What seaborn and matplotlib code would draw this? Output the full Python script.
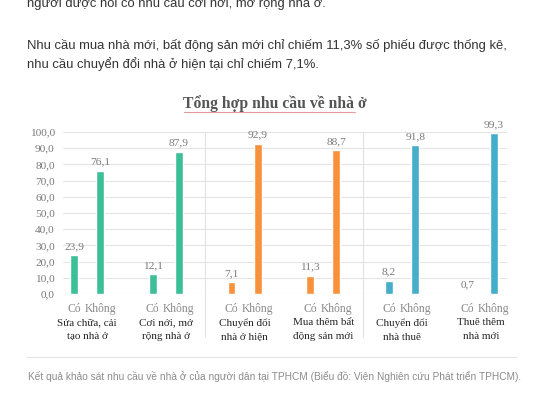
import numpy as np
import pandas as pd
import matplotlib
matplotlib.use("Agg")
import matplotlib.pyplot as plt
import matplotlib.transforms as mtransforms
import seaborn as sns

# %% — Data
categories = ["Sửa chữa, cải\ntạo nhà ở", "Cơi nới, mở\nrộng nhà ở",
              "Chuyển đổi\nnhà ở hiện", "Mua thêm bất\nđộng sản mới",
              "Chuyển đổi\nnhà thuê", "Thuê thêm\nnhà mới"]
themes = ["Cải tạo", "Cải tạo", "Chuyển đổi", "Chuyển đổi", "Thuê", "Thuê"]
answers = ["Có", "Không"]
yes_values = [23.9, 12.1, 7.1, 11.3, 8.2, 0.7]
no_values = [76.1, 87.9, 92.9, 88.7, 91.8, 99.3]
y_ticks = [0, 10, 20, 30, 40, 50, 60, 70, 80, 90, 100]

title = "Tổng hợp nhu cầu về nhà ở"
para_top = "người được hỏi có nhu cầu cơi nới, mở rộng nhà ở."
para_1 = "Nhu cầu mua nhà mới, bất động sản mới chỉ chiếm 11,3% số phiếu được thống kê,"
para_2 = "nhu cầu chuyển đổi nhà ở hiện tại chỉ chiếm 7,1%."
caption = ("Kết quả khảo sát nhu cầu về nhà ở của người dân tại TPHCM "
           "(Biểu đồ: Viện Nghiên cứu Phát triển TPHCM).")

palette = {"Cải tạo": "#3DBF99", "Chuyển đổi": "#F7913B", "Thuê": "#46AECA"}

# long table: each group gets a slot of 3 (Có, Không, gap)
rows = []
for g, (cat, th) in enumerate(zip(categories, themes)):
    for r, (ans, val) in enumerate(zip(answers, [yes_values[g], no_values[g]])):
        rows.append({"pos": 3 * g + r, "group": cat, "theme": th,
                     "answer": ans, "value": val})
df = pd.DataFrame(rows)

# %% — Figure
sns.set_theme(style="white")
plt.rcParams["font.family"] = ["Liberation Serif", "DejaVu Serif"]

W, H = 545, 400
fig = plt.figure(figsize=(W / 100, H / 100), dpi=100)
fig.patch.set_facecolor("white")

ax = fig.add_axes([63 / W, (H - 294) / H, 444 / W, 162 / H])
ax.set_facecolor("none")

sns.barplot(data=df, x="pos", y="value", hue="theme", palette=palette,
            native_scale=True, width=0.3, dodge=False, legend=False,
            saturation=1, ax=ax)

ax.set_ylim(0, 100)
ax.set_xlim(-0.42, df["pos"].max() + 0.5)
ax.set_yticks(y_ticks)
ax.set_yticklabels([f"{t:.1f}".replace(".", ",") for t in y_ticks],
                   color="#7a7a7a", fontsize=8.2)
ax.set_xticks(df["pos"])
ax.set_xticklabels(df["answer"], color="#8a8a8a", fontsize=8.4)
ax.tick_params(axis="both", length=0)
ax.tick_params(axis="x", pad=6.5)
ax.tick_params(axis="y", pad=6)
ax.set_xlabel("")
ax.set_ylabel("")
for s in ax.spines.values():
    s.set_visible(False)
ax.grid(True, axis="y", color="#e4e4e4", lw=0.8)
ax.set_axisbelow(True)

# value labels
for _, row in df.iterrows():
    ax.text(row["pos"], row["value"] + 2.5, f"{row['value']:.1f}".replace(".", ","),
            ha="center", va="bottom", fontsize=8.2, color="#7a7a7a", clip_on=False)

# group labels + separators between colour blocks
trans = mtransforms.blended_transform_factory(ax.transData, ax.transAxes)
for g, cat in enumerate(categories):
    ax.text(3 * g + 0.5, -0.15, cat, transform=trans, ha="center", va="top",
            fontsize=8, color="#262626", linespacing=1.7)
for g in range(1, len(categories)):
    if themes[g] != themes[g - 1]:
        ax.plot([3 * g - 1, 3 * g - 1], [-0.265, 1], transform=trans,
                color="#e2e2e2", lw=0.8, clip_on=False)

# chart title (with the red spell-check underline seen in the screenshot)
fig.text(275 / W, (H - 104) / H, title, ha="center", va="center",
         fontsize=11.3, fontweight="bold", color="#555555")
fig.add_artist(plt.Line2D([184 / W, 355 / W], [(H - 112) / H] * 2,
                          color="#e39a9a", lw=0.8))

# surrounding page text
sans = ["Liberation Sans", "DejaVu Sans"]
fig.text(27 / W, (H - 3) / H, para_top, family=sans, fontsize=9.35,
         color="#333333", va="center")
fig.text(27 / W, (H - 45) / H, para_1, family=sans, fontsize=9.35,
         color="#333333", va="center")
fig.text(27 / W, (H - 64) / H, para_2, family=sans, fontsize=9.35,
         color="#333333", va="center")
fig.add_artist(plt.Line2D([27 / W, 516 / W], [(H - 357) / H] * 2,
                          color="#e6e6e6", lw=0.9))
fig.text(28 / W, (H - 377) / H, caption, family=sans, fontsize=7.3,
         color="#8c8c8c", va="center")

fig.savefig("out.png", dpi=100)
